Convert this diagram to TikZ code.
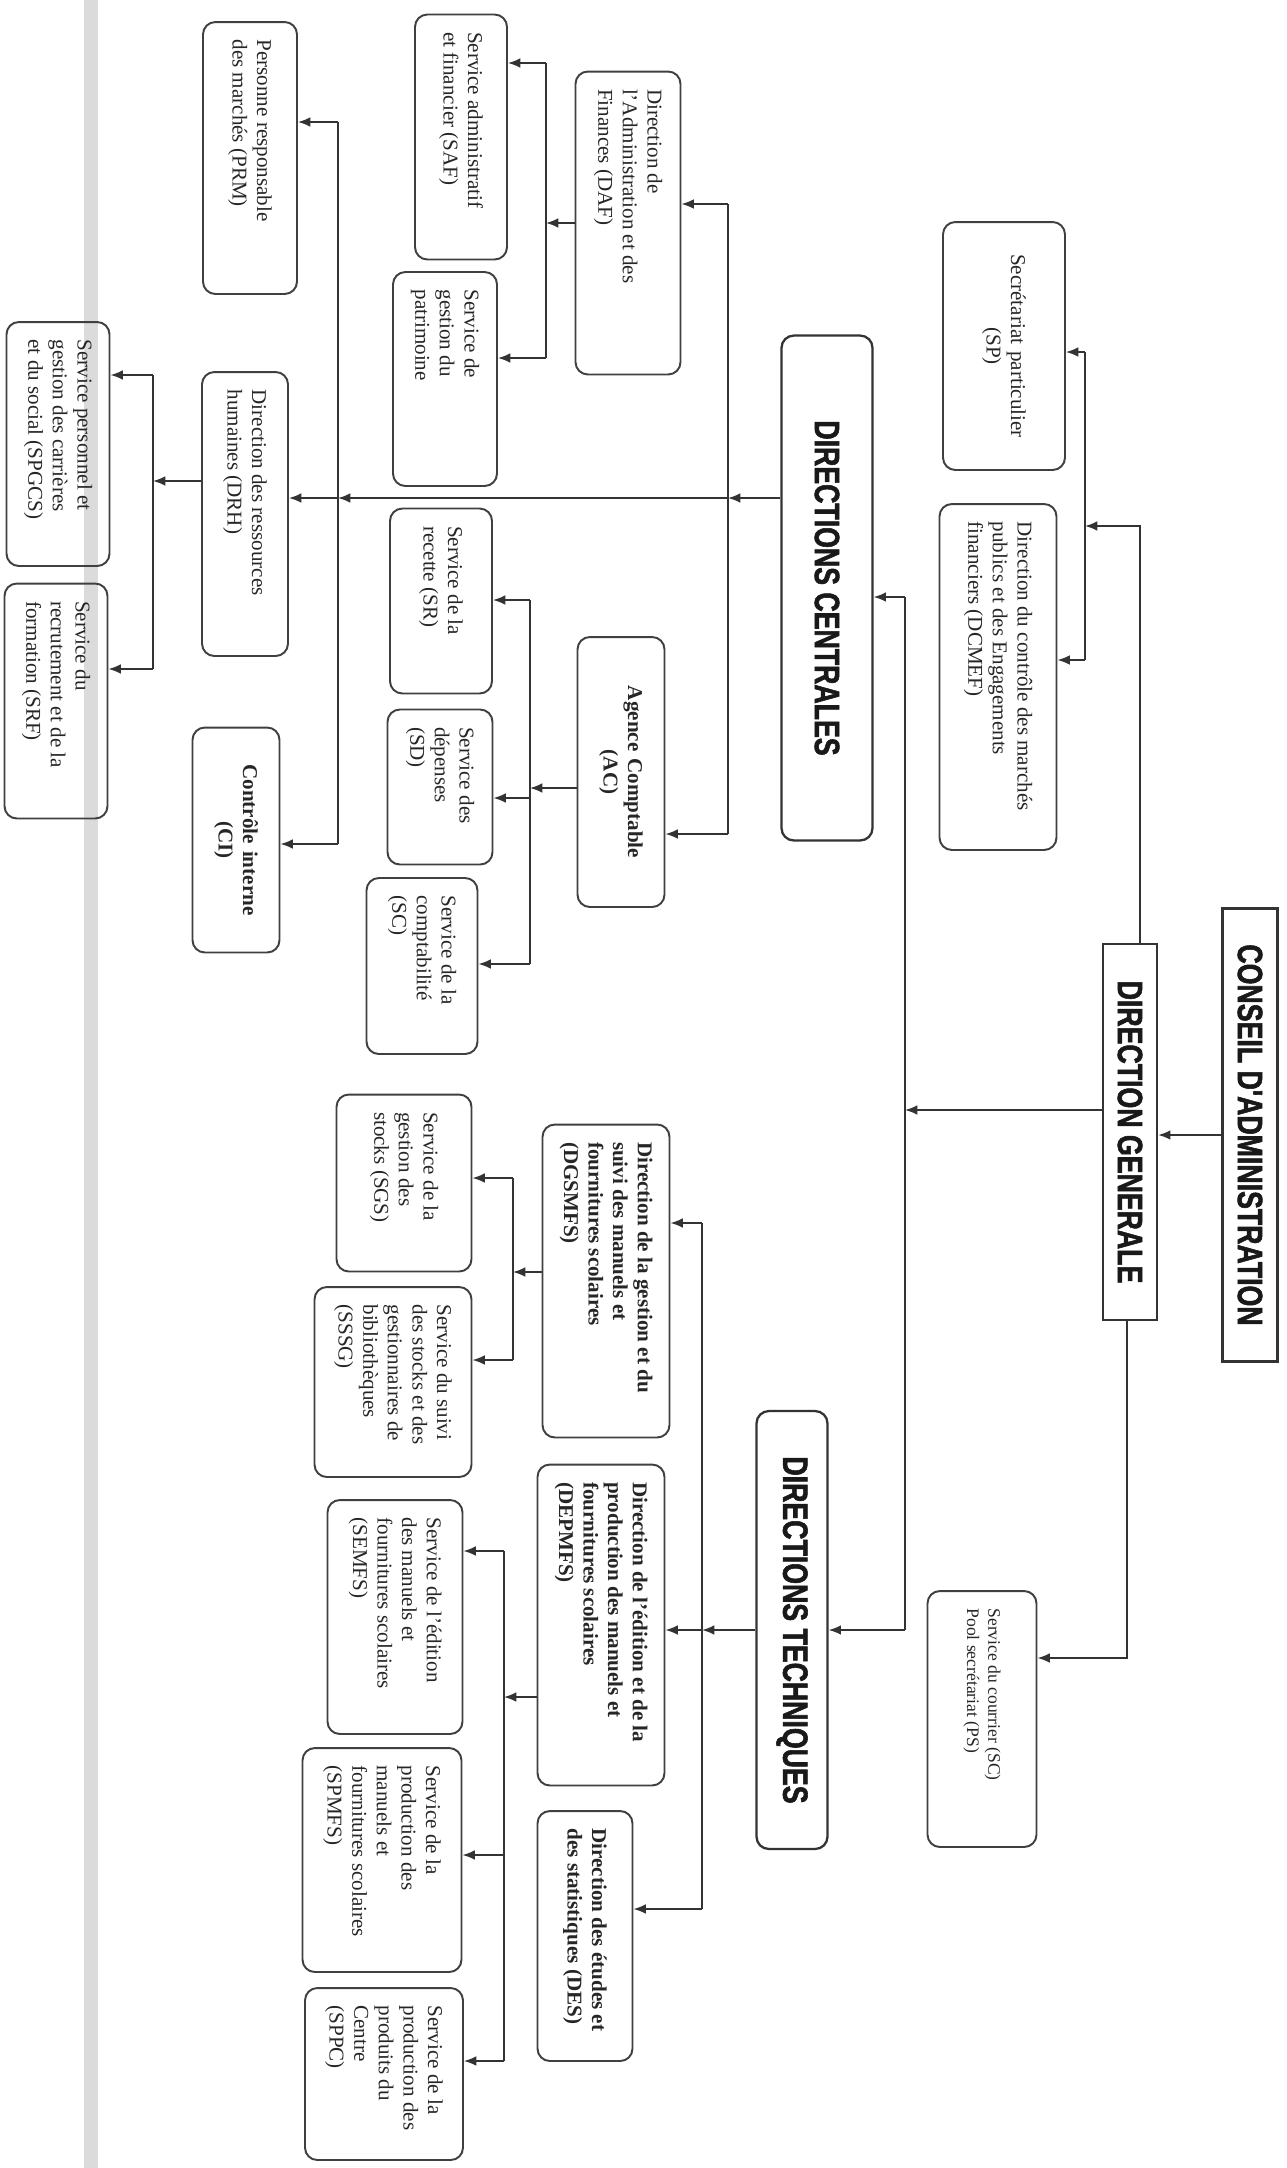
\documentclass[tikz,border=0pt]{standalone}
\usepackage{fontspec}
\setmainfont{Liberation Serif}
\newfontfamily\titlefont[FakeStretch=0.76, BoldFeatures={FakeBold=1.6}]{Liberation Sans}
\usepackage{tikz}
\usetikzlibrary{arrows.meta}

\begin{document}
\begin{tikzpicture}[
  x=0.02cm, y=-0.02cm,
  sbox/.style={rectangle, draw=black!75, line width=1.1pt, rounded corners=7pt, rotate=-90, align=flush left, inner xsep=0.35cm, inner ysep=2pt, font=\fontsize{12}{14}\selectfont, text=black!85},
  bbox/.style={sbox, font=\fontsize{12}{14}\selectfont\bfseries},
  head/.style={rectangle, draw=black!80, line width=1.3pt, rotate=-90, inner sep=0pt, font=\titlefont\bfseries\fontsize{20}{22}\selectfont, text=black!90},
  rhead/.style={head, rounded corners=7pt},
  link/.style={draw=black!80, line width=1pt},
  arr/.style={link, -{Latex[length=7pt,width=5.5pt]}},
]
\useasboundingbox (0,0) rectangle (1287,2168);
\fill[white] (0,0) rectangle (1287,2168);
% page fold
\fill[gray!28] (84,0) rectangle (98,2168);

% Top level
\node[head, minimum width=9.06cm, minimum height=1.1cm] (CA) at (1250,1135) {CONSEIL D'ADMINISTRATION};
\node[head, minimum width=7.52cm, minimum height=1.08cm] (DG) at (1130,1132) {DIRECTION GENERALE};
\node[sbox, align=center, text width=4.26cm, minimum height=2.44cm] (SP) at (1004,346) {Secrétariat particulier\\(SP)};
\node[sbox, text width=6.22cm, minimum height=2.34cm] (DCMEF) at (998,677) {Direction du contrôle des marchés\\publics et des Engagements\\financiers (DCMEF)};
\node[sbox, font=\fontsize{10}{12}\selectfont, text width=4.42cm, minimum height=2.18cm] (SCPS) at (982,1719) {Service du courrier (SC)\\Pool secrétariat (PS)};
\node[rhead, minimum width=10.1cm, minimum height=1.82cm] (DC) at (827,588) {DIRECTIONS CENTRALES};
\node[rhead, minimum width=8.76cm, minimum height=1.42cm] (DT) at (792,1630) {DIRECTIONS TECHNIQUES};

% Directions centrales
\node[sbox, text width=5.36cm, minimum height=2.10cm] (DAF) at (628,223) {Direction de\\l'Administration et des\\Finances (DAF)};
\node[bbox, align=center, text width=4.7cm, minimum height=1.74cm] (AC) at (621,772) {Agence Comptable\\(AC)};
\node[sbox, text width=4.2cm, minimum height=1.84cm] (SAF) at (461,137) {Service administratif\\et financier (SAF)};
\node[sbox, text width=3.58cm, minimum height=2.08cm] (SGP) at (445,379) {Service de\\gestion du\\patrimoine};
\node[sbox, text width=3.0cm, minimum height=2.04cm] (SR) at (441,601) {Service de la\\recette (SR)};
\node[sbox, text width=2.4cm, minimum height=2.10cm] (SD) at (440,787) {Service des\\dépenses\\(SD)};
\node[sbox, text width=2.82cm, minimum height=2.22cm] (SCompta) at (422,966) {Service de la\\comptabilité\\(SC)};
\node[sbox, text width=4.74cm, minimum height=1.88cm] (PRM) at (250,158) {Personne responsable\\des marchés (PRM)};
\node[sbox, text width=4.98cm, minimum height=1.72cm] (DRH) at (245,514) {Direction des ressources\\humaines (DRH)};
\node[bbox, align=center, text width=3.8cm, minimum height=1.74cm] (CI) at (236,840) {Contrôle interne\\(CI)};
\node[sbox, text width=4.18cm, minimum height=2.06cm] (SPGCS) at (58,444) {Service personnel et\\gestion des carrières\\et du social (SPGCS)};
\node[sbox, text width=4.0cm, minimum height=2.06cm] (SRF) at (56,701) {Service du\\recrutement et de la\\formation (SRF)};

% Directions techniques
\node[bbox, text width=5.56cm, minimum height=2.54cm] (DGSMFS) at (606,1281) {Direction de la gestion et du\\suivi des manuels et\\fournitures scolaires\\(DGSMFS)};
\node[bbox, text width=5.72cm, minimum height=2.54cm] (DEPMFS) at (601,1625) {Direction de l'édition et de la\\production des manuels et\\fournitures scolaires\\(DEPMFS)};
\node[bbox, text width=4.3cm, minimum height=1.90cm] (DES) at (585,1936) {Direction des études et\\des statistiques (DES)};
\node[sbox, text width=2.84cm, minimum height=2.70cm] (SGS) at (404,1183) {Service de la\\gestion des\\stocks (SGS)};
\node[sbox, text width=3.1cm, minimum height=3.14cm] (SSSG) at (393,1382) {Service du suivi\\des stocks et des\\gestionnaires de\\bibliothèques\\(SSSG)};
\node[sbox, text width=3.98cm, minimum height=2.70cm] (SEMFS) at (395,1617) {Service de l'édition\\des manuels et\\fournitures scolaires\\(SEMFS)};
\node[sbox, text width=3.78cm, minimum height=3.18cm] (SPMFS) at (382,1860) {Service de la\\production des\\manuels et\\fournitures scolaires\\(SPMFS)};
\node[sbox, text width=2.74cm, minimum height=3.16cm] (SPPC) at (384,2074) {Service de la\\production des\\produits du\\Centre\\(SPPC)};

% Links from the board and the DG
\coordinate (busT) at (905,597);
\coordinate (busJ) at (905,1110);
\coordinate (busB) at (905,1630);
\draw[arr] (CA.south) -- (DG.north |- CA.south);
\draw[arr] (DG.south |- busJ) -- (busJ);
\draw[link] (busT) -- (busB);
\draw[arr] (busT) -- (DC.north |- busT);
\draw[arr] (busB) -- (DT.north |- busB);

\coordinate (dgUp) at (1140,526);
\coordinate (secT) at (1085,352);
\coordinate (secB) at (1085,660);
\draw[arr] (DG.west -| dgUp) -- (dgUp) -- (secT |- dgUp);
\draw[link] (secT) -- (secB);
\draw[arr] (secT) -- (SP.north |- secT);
\draw[arr] (secB) -- (DCMEF.north |- secB);
\coordinate (dgDn) at (1127,1658);
\draw[arr] (DG.east -| dgDn) -- (dgDn) -- (SCPS.north |- dgDn);

% Directions centrales links
\coordinate (cenT) at (728,204);
\coordinate (cenJ) at (728,498);
\coordinate (cenB) at (728,834);
\coordinate (ctrT) at (338,122);
\coordinate (ctrJ) at (338,498);
\coordinate (ctrB) at (338,844);
\draw[arr] (DC.south |- cenJ) -- (cenJ);
\draw[arr] (cenJ) -- (ctrJ);
\draw[arr] (ctrJ) -- (DRH.north |- ctrJ);
\draw[link] (cenT) -- (cenB);
\draw[arr] (cenT) -- (DAF.north |- cenT);
\draw[arr] (cenB) -- (AC.north |- cenB);
\draw[link] (ctrT) -- (ctrB);
\draw[arr] (ctrT) -- (PRM.north |- ctrT);
\draw[arr] (ctrB) -- (CI.north |- ctrB);

\coordinate (dafT) at (546,63);
\coordinate (dafB) at (546,358);
\draw[arr] (DAF.south) -- (DAF.south -| dafT);
\draw[link] (dafT) -- (dafB);
\draw[arr] (dafT) -- (SAF.north |- dafT);
\draw[arr] (dafB) -- (SGP.north |- dafB);

\coordinate (acT) at (530,600);
\coordinate (acJ) at (530,788);
\coordinate (acM) at (530,798);
\coordinate (acB) at (530,964);
\draw[arr] (AC.south |- acJ) -- (acJ);
\draw[link] (acT) -- (acB);
\draw[arr] (acT) -- (SR.north |- acT);
\draw[arr] (acM) -- (SD.north |- acM);
\draw[arr] (acB) -- (SCompta.north |- acB);

\coordinate (drhT) at (153,375);
\coordinate (drhJ) at (153,481);
\coordinate (drhB) at (153,669);
\draw[arr] (DRH.south |- drhJ) -- (drhJ);
\draw[link] (drhT) -- (drhB);
\draw[arr] (drhT) -- (SPGCS.north |- drhT);
\draw[arr] (drhB) -- (SRF.north |- drhB);

% Directions techniques links
\coordinate (dtT) at (702,1223);
\coordinate (dtJ) at (702,1630);
\coordinate (dtB) at (702,1909);
\draw[arr] (DT.south) -- (dtJ);
\draw[arr] (dtJ) -- (DEPMFS.north |- dtJ);
\draw[link] (dtT) -- (dtB);
\draw[arr] (dtT) -- (DGSMFS.north |- dtT);
\draw[arr] (dtB) -- (DES.north |- dtB);

\coordinate (dgsT) at (513,1178);
\coordinate (dgsJ) at (513,1272);
\coordinate (dgsB) at (513,1360);
\draw[arr] (DGSMFS.south |- dgsJ) -- (dgsJ);
\draw[link] (dgsT) -- (dgsB);
\draw[arr] (dgsT) -- (SGS.north |- dgsT);
\draw[arr] (dgsB) -- (SSSG.north |- dgsB);

\coordinate (depT) at (504,1551);
\coordinate (depJ) at (504,1697);
\coordinate (depM) at (504,1855);
\coordinate (depB) at (504,2061);
\draw[arr] (DEPMFS.south |- depJ) -- (depJ);
\draw[link] (depT) -- (depB);
\draw[arr] (depT) -- (SEMFS.north |- depT);
\draw[arr] (depM) -- (SPMFS.north |- depM);
\draw[arr] (depB) -- (SPPC.north |- depB);

\end{tikzpicture}
\end{document}
